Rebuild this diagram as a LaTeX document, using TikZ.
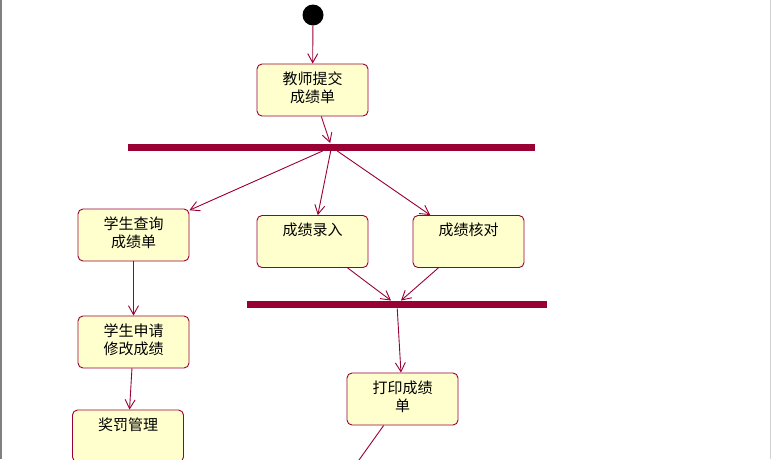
\documentclass[tikz,border=0pt]{standalone}
\usepackage{fontspec}
\setmainfont{Noto Sans CJK SC}
\usetikzlibrary{arrows.meta}
\definecolor{roseRed}{RGB}{153,0,51}
\definecolor{roseFill}{RGB}{255,255,206}
\newcommand{\twoline}[2]{\begin{tabular}[t]{@{}c@{}}#1\\#2\end{tabular}}
\begin{document}
\begin{tikzpicture}[->, line width=0.9pt, x=1pt, y=-1pt, >={Straight Barb[length=9pt,width=10pt]}]
    \tikzset{act/.style={draw=roseRed, fill=roseFill, rectangle, rounded corners=5pt, minimum width=111pt, inner xsep=2pt, inner ysep=4pt, text height=16pt, text depth=28pt, font=\fontsize{15pt}{18pt}\selectfont},
      bar/.style={fill=roseRed, rectangle, inner sep=0pt, minimum height=7pt},
      start/.style={fill=black, circle, minimum size=21pt, inner sep=0pt}};
    \useasboundingbox (0,0) rectangle (771,459);
    \fill[gray] (0,0) rectangle (2,459);
    \draw[-, black!18, thick] (770,0) -- (770,459);
    \clip (0,0) rectangle (769,459);
    \node[start] (sStart) at (313,15) {};
    \node[act] (sSubmit) at (312.5,90) {\twoline{教师提交}{成绩单}};
    \node[bar, minimum width=407pt] (sFork) at (331.5,147) {};
    \node[act] (sQuery) at (133.5,235) {\twoline{学生查询}{成绩单}};
    \node[act] (sInput) at (312.5,241.5) {成绩录入};
    \node[act] (sCheck) at (468.5,241.5) {成绩核对};
    \node[bar, minimum width=300pt] (sJoin) at (397,304.5) {};
    \node[act] (sApply) at (133.5,342) {\twoline{学生申请}{修改成绩}};
    \node[act] (sPrint) at (402.5,399) {\twoline{打印成绩}{单}};
    \node[act] (sReward) at (128,436) {奖罚管理};
    \coordinate (sNext) at (324,509);
    {
      \path[color=roseRed]
        (sStart) edge (sSubmit)
        (sSubmit) edge (sFork)
        (sFork) edge (sQuery)
        (sFork) edge (sInput)
        (sFork) edge (sCheck)
        (sInput) edge ([xshift=-6pt]sJoin.north)
        (sCheck) edge ([xshift=4pt]sJoin.north)
        (sJoin) edge (sPrint)
        (sQuery) edge (sApply)
        (sApply) edge (sReward)
        (sPrint) edge (sNext)
        ;
    }
\end{tikzpicture}
\end{document}
